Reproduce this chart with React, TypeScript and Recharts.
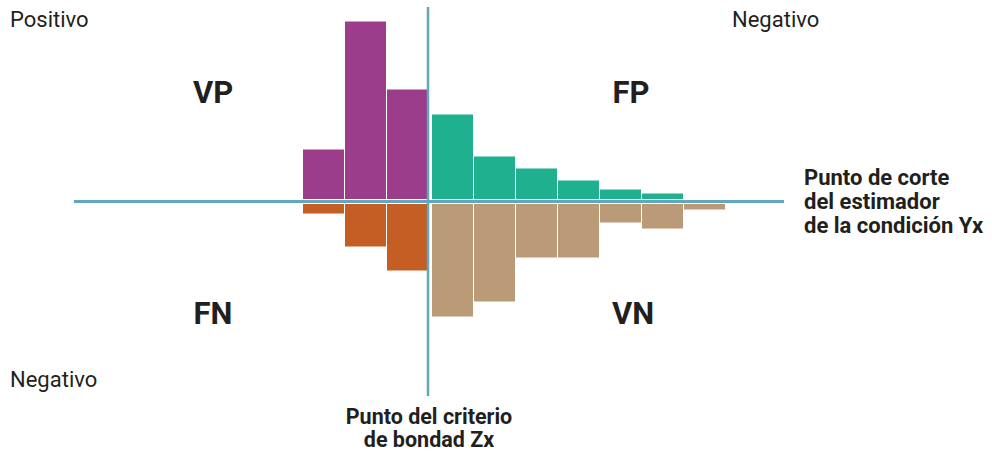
import { BarChart, Bar, XAxis, YAxis, ReferenceLine } from "recharts";

// histogram classes (same for both groups, left group sits on its own axis)
const categories = ["1", "2", "3", "4", "5", "6", "7", "8", "9", "10"];

// above the cut-off line
const vp = [52, 180, 112, null, null, null, null, null, null, null];
const fp = [null, null, null, 87, 45, 33, 21, 12, 8, null];
// below the cut-off line
const fn = [-12, -45, -69, null, null, null, null, null, null, null];
const vn = [null, null, null, -115, -100, -56, -56, -21, -27, -8];

const quadrantLabels = ["VP", "FP", "FN", "VN"];
const sideLabels = ["Positivo", "Negativo", "Negativo"];
const cutLabel = ["Punto de corte", "del estimador", "de la condición Yx"];
const criterionLabel = ["Punto del criterio", "de bondad Zx"];

const data = categories.map((name, i) => ({
  name,
  vp: vp[i],
  fp: fp[i],
  fn: fn[i],
  vn: vn[i],
}));

const W = 992;
const H = 454;
const LINE = "#62a8ba";
const INK = "#231f20";
const FONT = "Roboto, 'Noto Sans', sans-serif";

export default function App() {
  return (
    <div style={{ position: "absolute", left: 0, top: 0, width: W, height: H, background: "#fff" }}>
      <BarChart
        width={W}
        height={H}
        data={data}
        stackOffset="sign"
        margin={{ top: 7, right: 208, bottom: 58, left: 74 }}
      >
        <XAxis xAxisId="L" dataKey="name" type="category" hide padding={{ left: 228, right: 62 }} />
        <XAxis xAxisId="R" dataKey="name" type="category" hide padding={{ left: 231, right: 59 }} />
        <YAxis type="number" domain={[-194.5, 194.5]} hide allowDataOverflow />
        <Bar xAxisId="L" dataKey="vp" stackId="L" fill="#9b3d8a" barSize={41} isAnimationActive={false} />
        <Bar xAxisId="L" dataKey="fn" stackId="L" fill="#c45e25" barSize={41} isAnimationActive={false} />
        <Bar xAxisId="R" dataKey="fp" stackId="R" fill="#1fb08f" barSize={41} isAnimationActive={false} />
        <Bar xAxisId="R" dataKey="vn" stackId="R" fill="#bb9a78" barSize={41} isAnimationActive={false} />
        <ReferenceLine xAxisId="L" y={0} stroke="#fff" strokeWidth={5} />
        <ReferenceLine xAxisId="L" y={0} stroke={LINE} strokeWidth={3} />
        <ReferenceLine xAxisId="L" x="3" position="end" stroke={LINE} strokeWidth={2.5} />
      </BarChart>
      <svg
        width={W}
        height={H}
        style={{ position: "absolute", left: 0, top: 0, pointerEvents: "none" }}
        fontFamily={FONT}
        fill={INK}
      >
        <text x={10} y={27} fontSize={22}>{sideLabels[0]}</text>
        <text x={732} y={27} fontSize={22}>{sideLabels[1]}</text>
        <text x={10} y={387} fontSize={22}>{sideLabels[2]}</text>

        <g fontSize={31} fontWeight={700} textAnchor="middle">
          <text x={213} y={103}>{quadrantLabels[0]}</text>
          <text x={631} y={103}>{quadrantLabels[1]}</text>
          <text x={213} y={324}>{quadrantLabels[2]}</text>
          <text x={633} y={324}>{quadrantLabels[3]}</text>
        </g>

        <text x={804} y={185} fontSize={22} fontWeight={700}>
          {cutLabel.map((t, i) => (
            <tspan key={t} x={804} dy={i === 0 ? 0 : 24}>{t}</tspan>
          ))}
        </text>
        <text x={429} y={424} fontSize={21.5} fontWeight={700} textAnchor="middle">
          {criterionLabel.map((t, i) => (
            <tspan key={t} x={429} dy={i === 0 ? 0 : 23}>{t}</tspan>
          ))}
        </text>
      </svg>
    </div>
  );
}
